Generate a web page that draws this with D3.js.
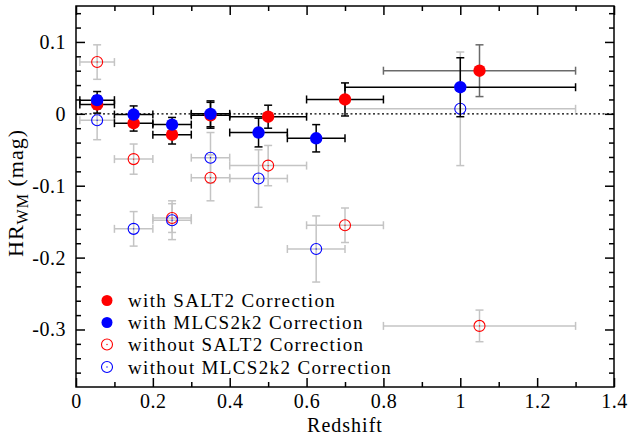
<!DOCTYPE html>
<html><head><meta charset="utf-8">
<script src="https://cdn.jsdelivr.net/npm/d3@7"></script>
<style>body{margin:0;background:#fff}svg{display:block}text{font-family:"Liberation Serif","Times New Roman",serif;fill:#000}</style>
</head><body>
<script>
// ---- data ----
const xTicks = [0, 0.2, 0.4, 0.6, 0.8, 1, 1.2, 1.4];
const xTickLabels = ["0", "0.2", "0.4", "0.6", "0.8", "1", "1.2", "1.4"];
const yTicks = [-0.3, -0.2, -0.1, 0, 0.1];
const yTickLabels = ["-0.3", "-0.2", "-0.1", "0", "0.1"];

// bins shared by SALT2 series
const saltZ    = [0.055, 0.15, 0.25, 0.35, 0.50, 0.70, 1.05];
const saltZlo  = [0.01, 0.10, 0.20, 0.30, 0.40, 0.60, 0.80];
const saltZhi  = [0.10, 0.20, 0.30, 0.40, 0.60, 0.80, 1.30];
// bins shared by MLCS2k2 series
const mlcsZ    = [0.055, 0.15, 0.25, 0.35, 0.475, 0.625, 1.00];
const mlcsZlo  = [0.01, 0.10, 0.20, 0.30, 0.40, 0.55, 0.70];
const mlcsZhi  = [0.10, 0.20, 0.30, 0.40, 0.55, 0.70, 1.30];

const saltWith     = [0.013, -0.013, -0.029, -0.002, -0.004, 0.020, 0.060];
const saltWithErr  = [0.012, 0.011, 0.013, 0.018, 0.016, 0.023, 0.036];
const mlcsWith     = [0.019, -0.001, -0.015, 0.000, -0.026, -0.034, 0.037];
const mlcsWithErr  = [0.012, 0.012, 0.010, 0.018, 0.020, 0.019, 0.041];
const saltWithout    = [0.072, -0.063, -0.145, -0.089, -0.072, -0.155, -0.295];
const saltWithoutErr = [0.024, 0.021, 0.020, 0.032, 0.028, 0.024, 0.022];
const mlcsWithout    = [-0.009, -0.160, -0.148, -0.061, -0.090, -0.188, 0.007];
const mlcsWithoutErr = [0.027, 0.024, 0.027, 0.035, 0.040, 0.046, 0.079];

const legendLabels = ["with SALT2 Correction", "with MLCS2k2 Correction",
                      "without SALT2 Correction", "without MLCS2k2 Correction"];

// ---- layout ----
const W = 629, H = 436;
const m = {left: 76, top: 6, right: 15, bottom: 49};
const pw = W - m.left - m.right, ph = H - m.top - m.bottom;

const svg = d3.select("body").append("svg").attr("width", W).attr("height", H);
const g = svg.append("g").attr("transform", `translate(${m.left},${m.top})`);

const x = d3.scaleLinear().domain([0, 1.4]).range([0, pw]);
const y = d3.scaleLinear().domain([-0.38, 0.15]).range([ph, 0]);

// zero dotted line
g.append("line").attr("x1", 0).attr("x2", pw).attr("y1", y(0)).attr("y2", y(0))
  .attr("stroke", "#000").attr("stroke-width", 1.2).attr("stroke-dasharray", "2,2.5");

function mk(zs, lo, hi, vals, errs) {
  return zs.map((z, i) => ({z, lo: lo[i], hi: hi[i], v: vals[i], e: errs[i]}));
}
const series = [
  {data: mk(saltZ, saltZlo, saltZhi, saltWithout, saltWithoutErr), color: "red", filled: false, err: "#c4c4c4"},
  {data: mk(mlcsZ, mlcsZlo, mlcsZhi, mlcsWithout, mlcsWithoutErr), color: "blue", filled: false, err: "#c4c4c4"},
  {data: mk(saltZ, saltZlo, saltZhi, saltWith, saltWithErr), color: "red", filled: true, err: "#000"},
  {data: mk(mlcsZ, mlcsZlo, mlcsZhi, mlcsWith, mlcsWithErr), color: "blue", filled: true, err: "#000"}
];

const cap = 4;
function drawErrors(s) {
  const eg = g.append("g");
  s.data.forEach(d => {
    const col = (s.filled && s.color === "red" && d.z > 1) ? "#6a6a6a" : s.err;
    const px = x(d.z), py = y(d.v);
    const segs = [
      [x(d.lo), py, x(d.hi), py],
      [x(d.lo), py - cap, x(d.lo), py + cap],
      [x(d.hi), py - cap, x(d.hi), py + cap],
      [px, y(d.v + d.e), px, y(d.v - d.e)],
      [px - cap, y(d.v + d.e), px + cap, y(d.v + d.e)],
      [px - cap, y(d.v - d.e), px + cap, y(d.v - d.e)]
    ];
    segs.forEach(sg => eg.append("line").attr("x1", sg[0]).attr("y1", sg[1]).attr("x2", sg[2]).attr("y2", sg[3])
      .attr("stroke", col).attr("stroke-width", 1.5));
  });
}
function drawMarks(s) {
  const mg = g.append("g");
  s.data.forEach(d => {
    const px = x(d.z), py = y(d.v);
    if (s.filled) {
      mg.append("circle").attr("cx", px).attr("cy", py).attr("r", 6.2).attr("fill", s.color);
    } else {
      mg.append("circle").attr("cx", px).attr("cy", py).attr("r", 5.5).attr("fill", "none")
        .attr("stroke", s.color).attr("stroke-width", 1.1);
      mg.append("circle").attr("cx", px).attr("cy", py).attr("r", 0.7).attr("fill", s.color);
    }
  });
}
series.filter(s => !s.filled).forEach(drawErrors);
series.filter(s => !s.filled).forEach(drawMarks);
series.filter(s => s.filled).forEach(drawErrors);
series.filter(s => s.filled).forEach(drawMarks);

// frame
g.append("rect").attr("width", pw).attr("height", ph).attr("fill", "none").attr("stroke", "#000").attr("stroke-width", 1.5);

// axes: ticks inward on all sides
const fmtX = (d) => xTickLabels[xTicks.indexOf(d)];
const fmtY = (d) => yTickLabels[yTicks.findIndex(t => Math.abs(t - d) < 1e-9)];
const axB = g.append("g").attr("transform", `translate(0,${ph})`)
  .call(d3.axisBottom(x).tickValues(xTicks).tickFormat(fmtX).tickSize(-9).tickPadding(10));
g.append("g").attr("transform", `translate(0,${ph})`)
  .call(d3.axisBottom(x).tickValues(d3.range(0.1, 1.4, 0.2)).tickFormat("").tickSize(-5));
g.append("g").call(d3.axisTop(x).tickValues(xTicks).tickFormat("").tickSize(-9));
g.append("g").call(d3.axisTop(x).tickValues(d3.range(0.1, 1.4, 0.2)).tickFormat("").tickSize(-5));
g.append("g").call(d3.axisLeft(y).tickValues(yTicks).tickFormat(fmtY).tickSize(-9).tickPadding(10));
const yMinor = d3.range(-0.36, 0.15, 0.02).filter(v => Math.abs(Math.round(v * 10) - v * 10) > 1e-6);
g.append("g").call(d3.axisLeft(y).tickValues(yMinor).tickFormat("").tickSize(-5));
g.append("g").attr("transform", `translate(${pw},0)`).call(d3.axisRight(y).tickValues(yTicks).tickFormat("").tickSize(-9));
g.append("g").attr("transform", `translate(${pw},0)`).call(d3.axisRight(y).tickValues(yMinor).tickFormat("").tickSize(-5));
g.selectAll(".domain").remove();
g.selectAll(".tick line").attr("stroke", "#000").attr("stroke-width", 1.5);
g.selectAll(".tick text").style("font-family", '"Liberation Serif", serif').style("font-size", "20px")
  .style("letter-spacing", "0.5px").attr("fill", "#000");
axB.selectAll(".tick text").attr("dy", "0.55em");

// axis titles
svg.append("text").attr("x", m.left + pw / 2).attr("y", 432).attr("text-anchor", "middle")
  .style("font-size", "20px").style("letter-spacing", "1px").text("Redshift");
const yl = svg.append("text").attr("transform", `translate(23,193) rotate(-90)`)
  .attr("text-anchor", "middle").style("font-size", "22px").style("letter-spacing", "1px");
yl.append("tspan").text("HR");
yl.append("tspan").attr("dy", 5).style("font-size", "16px").text("WM");
yl.append("tspan").attr("dy", -5).text(" (mag)");

// legend
const lg = svg.append("g");
const legY = [300.5, 322.5, 344.5, 367];
const legOrder = [series[2], series[3], series[0], series[1]];
legOrder.forEach((s, i) => {
  const cy = legY[i], cx = 107;
  if (s.filled) lg.append("circle").attr("cx", cx).attr("cy", cy).attr("r", 5.5).attr("fill", s.color);
  else {
    lg.append("circle").attr("cx", cx).attr("cy", cy).attr("r", 5.5).attr("fill", "none").attr("stroke", s.color).attr("stroke-width", 1.1);
    lg.append("circle").attr("cx", cx).attr("cy", cy).attr("r", 0.7).attr("fill", s.color);
  }
  lg.append("text").attr("x", 128).attr("y", cy).attr("dy", "0.35em").style("font-size", "19px")
    .style("letter-spacing", "1.35px").text(legendLabels[i]);
});
</script>
</body></html>
